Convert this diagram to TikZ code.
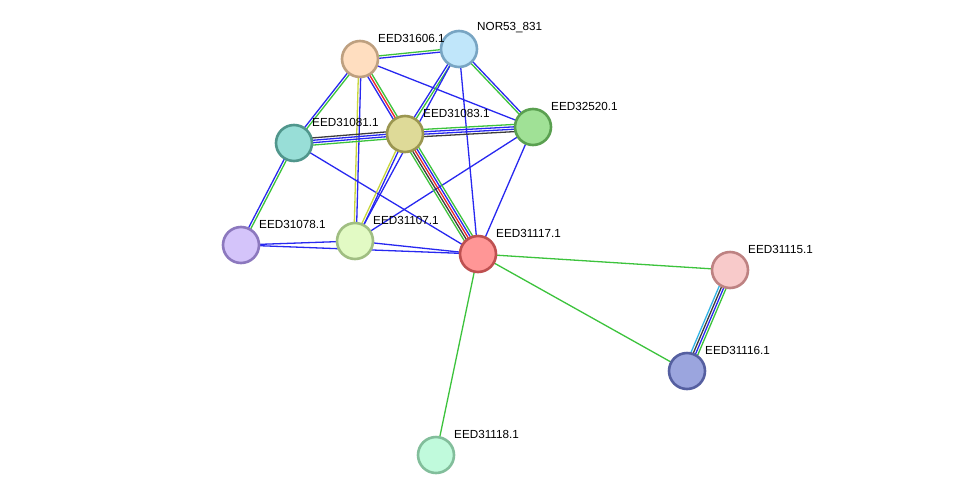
\documentclass[tikz,border=0pt]{standalone}
\usepackage{fontspec}
\setmainfont{Liberation Sans}
\usetikzlibrary{calc,backgrounds}
\definecolor{eg}{RGB}{60,195,60}
\definecolor{eb}{RGB}{40,40,240}
\definecolor{er}{RGB}{235,40,40}
\definecolor{ey}{RGB}{200,215,60}
\definecolor{ek}{RGB}{60,60,60}
\definecolor{ec}{RGB}{50,180,230}
\definecolor{f606}{RGB}{255,222,192}\definecolor{d606}{RGB}{190,160,128}
\definecolor{fnor}{RGB}{192,230,250}\definecolor{dnor}{RGB}{120,165,195}
\definecolor{f081}{RGB}{152,222,215}\definecolor{d081}{RGB}{80,150,140}
\definecolor{f083}{RGB}{222,218,152}\definecolor{d083}{RGB}{155,150,80}
\definecolor{f520}{RGB}{160,225,150}\definecolor{d520}{RGB}{90,160,80}
\definecolor{f078}{RGB}{212,196,250}\definecolor{d078}{RGB}{140,120,190}
\definecolor{f107}{RGB}{226,250,196}\definecolor{d107}{RGB}{160,190,130}
\definecolor{f117}{RGB}{255,150,150}\definecolor{d117}{RGB}{190,80,80}
\definecolor{f115}{RGB}{248,202,202}\definecolor{d115}{RGB}{190,130,130}
\definecolor{f116}{RGB}{155,165,222}\definecolor{d116}{RGB}{85,95,160}
\definecolor{f118}{RGB}{192,250,220}\definecolor{d118}{RGB}{130,190,155}
\tikzset{
  prot/.style n args={2}{circle, minimum size=36pt, inner sep=0pt, line width=2.6pt, fill=#1, draw=#2},
  lbl/.style={anchor=west, inner sep=0pt, font=\fontsize{11.7}{13}\selectfont, text=black},
  lnk/.style={line width=1.3pt}
}
\newcommand{\ed}[4]{\draw[lnk, #4] ($(#1)!#3!90:(#2)$) -- ($(#2)!#3!-90:(#1)$);}
\begin{document}
\begin{tikzpicture}[x=1pt,y=-1pt]
\useasboundingbox (0,0) rectangle (976,501);
% nodes
\node[prot={f606}{d606}] (n606) at (360,59) {};
\node[prot={fnor}{dnor}] (nor) at (459,49) {};
\node[prot={f081}{d081}] (n081) at (294,143) {};
\node[prot={f083}{d083}] (n083) at (405,134) {};
\node[prot={f520}{d520}] (n520) at (533,127) {};
\node[prot={f078}{d078}] (n078) at (241,245) {};
\node[prot={f107}{d107}] (n107) at (355,241) {};
\node[prot={f117}{d117}] (n117) at (478,254) {};
\node[prot={f115}{d115}] (n115) at (730,270) {};
\node[prot={f116}{d116}] (n116) at (687,371) {};
\node[prot={f118}{d118}] (n118) at (436,455) {};
% labels
\node[lbl] (l606) at ($(n606)+(18,-21)$) {EED31606.1};
\node[lbl] (lnor) at ($(nor)+(18,-21)$) {NOR53\_831};
\node[lbl] (l081) at ($(n081)+(18,-21)$) {EED31081.1};
\node[lbl] (l083) at ($(n083)+(18,-21)$) {EED31083.1};
\node[lbl] (l520) at ($(n520)+(18,-21)$) {EED32520.1};
\node[lbl] (l078) at ($(n078)+(18,-21)$) {EED31078.1};
\node[lbl] (l107) at ($(n107)+(18,-21)$) {EED31107.1};
\node[lbl] (l117) at ($(n117)+(18,-21)$) {EED31117.1};
\node[lbl] (l115) at ($(n115)+(18,-21)$) {EED31115.1};
\node[lbl] (l116) at ($(n116)+(18,-21)$) {EED31116.1};
\node[lbl] (l118) at ($(n118)+(18,-21)$) {EED31118.1};
% edges
\begin{pgfonlayer}{background}
\fill[white] (0,0) rectangle (976,501);
\ed{n606}{nor}{1.2pt}{eg}
\ed{n606}{nor}{-1.2pt}{eb}
\ed{n606}{n081}{1.2pt}{eg}
\ed{n606}{n081}{-1.2pt}{eb}
\ed{n606}{n107}{1.2pt}{eb}
\ed{n606}{n107}{-1.2pt}{ey}
\ed{n606}{n083}{2.4pt}{eg}
\ed{n606}{n083}{0pt}{er}
\ed{n606}{n083}{-2.4pt}{eb}
\ed{n606}{n520}{0pt}{eb}
\ed{nor}{n083}{1.2pt}{eg}
\ed{nor}{n083}{-1.2pt}{eb}
\ed{nor}{n107}{0pt}{eb}
\ed{nor}{n520}{1.2pt}{eb}
\ed{nor}{n520}{-1.2pt}{eg}
\ed{nor}{n117}{0pt}{eb}
\ed{n081}{n083}{3.6pt}{ek}
\ed{n081}{n083}{1.2pt}{eb}
\ed{n081}{n083}{-1.2pt}{eb}
\ed{n081}{n083}{-3.6pt}{eg}
\ed{n083}{n520}{3.6pt}{eg}
\ed{n083}{n520}{1.2pt}{eb}
\ed{n083}{n520}{-1.2pt}{eb}
\ed{n083}{n520}{-3.6pt}{ek}
\ed{n081}{n078}{1.2pt}{eg}
\ed{n081}{n078}{-1.2pt}{eb}
\ed{n081}{n117}{0pt}{eb}
\ed{n078}{n107}{0pt}{eb}
\ed{n078}{n117}{0pt}{eb}
\ed{n107}{n117}{0pt}{eb}
\ed{n107}{n520}{0pt}{eb}
\ed{n083}{n107}{1.2pt}{eb}
\ed{n083}{n107}{-1.2pt}{ey}
\ed{n520}{n117}{0pt}{eb}
\ed{n083}{n117}{4.8pt}{eg}
\ed{n083}{n117}{2.4pt}{eb}
\ed{n083}{n117}{0pt}{er}
\ed{n083}{n117}{-2.4pt}{ek}
\ed{n083}{n117}{-4.8pt}{eg}
\ed{n117}{n115}{0pt}{eg}
\ed{n117}{n116}{0pt}{eg}
\ed{n117}{n118}{0pt}{eg}
\ed{n115}{n116}{3.6pt}{eg}
\ed{n115}{n116}{1.2pt}{eb}
\ed{n115}{n116}{-1.2pt}{ek}
\ed{n115}{n116}{-3.6pt}{ec}
\end{pgfonlayer}
\end{tikzpicture}
\end{document}
